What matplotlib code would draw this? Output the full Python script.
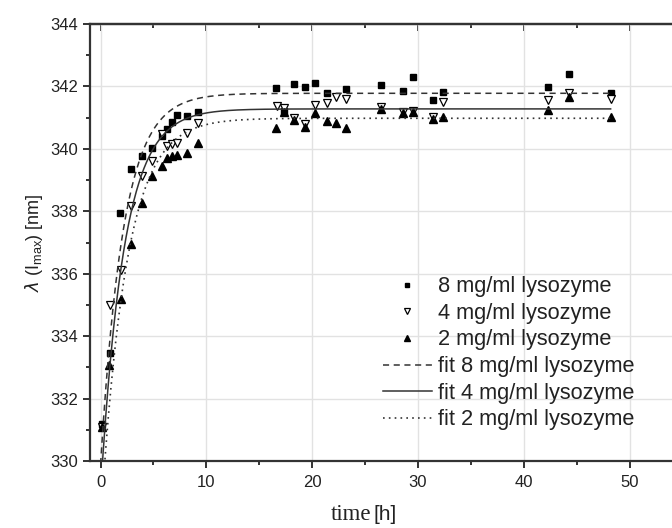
import numpy as np
import matplotlib
matplotlib.use("Agg")
import matplotlib.pyplot as plt
from matplotlib.ticker import MultipleLocator

plt.rcParams['font.family'] = ['Liberation Sans', 'DejaVu Sans']

# measured points, time in h, lambda in nm
t8 = [0.16, 0.89, 1.83, 2.84, 3.88, 4.88, 5.76, 6.23, 6.77, 7.24, 8.2, 9.2,
      16.6, 17.3, 18.27, 19.28, 20.3, 21.36, 23.2, 26.5, 28.56, 29.5, 31.4,
      32.4, 42.3, 44.25, 48.2]
y8 = [331.17, 333.45, 337.93, 339.37, 339.77, 340.04, 340.4, 340.63, 340.85,
      341.07, 341.05, 341.17, 341.94, 341.2, 342.09, 341.97, 342.1, 341.78,
      341.91, 342.04, 341.86, 342.29, 341.56, 341.81, 341.99, 342.39, 341.78]

t4 = [0.16, 0.89, 1.9, 2.84, 3.88, 4.88, 5.76, 6.23, 6.77, 7.24, 8.2, 9.2,
      16.7, 17.3, 18.27, 19.28, 20.3, 21.36, 22.27, 23.2, 26.5, 28.56, 29.5,
      31.4, 32.4, 42.3, 44.25, 48.2]
y4 = [331.1, 335.0, 336.12, 338.18, 339.13, 339.61, 340.46, 340.09, 340.14,
      340.2, 340.5, 340.82, 341.38, 341.3, 340.98, 340.8, 341.4, 341.48,
      341.67, 341.6, 341.35, 341.19, 341.22, 341.03, 341.51, 341.56, 341.78,
      341.59]

t2 = [0.16, 0.82, 1.9, 2.84, 3.88, 4.88, 5.76, 6.23, 6.77, 7.24, 8.2, 9.2,
      16.6, 17.3, 18.27, 19.28, 20.3, 21.36, 22.27, 23.2, 26.5, 28.56, 29.5,
      31.4, 32.4, 42.3, 44.25, 48.2]
y2 = [331.1, 333.07, 335.2, 336.95, 338.28, 339.14, 339.45, 339.72, 339.77,
      339.8, 339.88, 340.2, 340.66, 341.19, 340.92, 340.71, 341.14, 340.9,
      340.82, 340.66, 341.27, 341.16, 341.19, 340.95, 341.01, 341.24, 341.65,
      341.01]

# exponential fit parameters: plateau, start value, time constant
fit8 = (341.78, 329.9, 2.15)
fit4 = (341.28, 329.0, 2.2)
fit2 = (340.98, 328.0, 2.4)

def expfit(t, p):
    plateau, y0, tau = p
    return plateau - (plateau - y0) * np.exp(-t / tau)

tt = np.linspace(0, 48.2, 600)

fig = plt.figure(figsize=(6.72, 5.28), dpi=100)
ax = fig.add_axes([90/672, 67/528, 582/672, 437/528])

ax.grid(True, which='major', color='#e2e2e2', lw=1)
ax.set_axisbelow(True)

lc = '#333333'
ax.plot(t8, y8, ls='none', marker='s', ms=4.3, color='black', label='8 mg/ml lysozyme')
ax.plot(t4, y4, ls='none', marker='v', ms=5.2, mfc='white', mec='black', mew=0.9,
        label='4 mg/ml lysozyme')
ax.plot(t2, y2, ls='none', marker='^', ms=5.2, color='black', label='2 mg/ml lysozyme')
ax.plot(tt, expfit(tt, fit8), ls=(0, (4, 3)), color=lc, lw=1.1, label='fit 8 mg/ml lysozyme')
ax.plot(tt, expfit(tt, fit4), ls='-', color=lc, lw=1.1, label='fit 4 mg/ml lysozyme')
ax.plot(tt, expfit(tt, fit2), ls=(0, (1, 2.5)), color=lc, lw=1.2, label='fit 2 mg/ml lysozyme')

ax.set_xlim(-1, 54)
ax.set_ylim(330, 344)
ax.xaxis.set_major_locator(MultipleLocator(10))
ax.xaxis.set_minor_locator(MultipleLocator(5))
ax.yaxis.set_major_locator(MultipleLocator(2))
ax.yaxis.set_minor_locator(MultipleLocator(1))

for s in ['left', 'bottom', 'top']:
    ax.spines[s].set_linewidth(1.6)
    ax.spines[s].set_color(lc)
ax.spines['right'].set_visible(False)

ax.tick_params(which='both', direction='out', color=lc, width=1.4,
               labelsize=12, labelcolor='#222222')
ax.tick_params(which='major', length=5)
ax.tick_params(which='minor', length=3)
ax.tick_params(axis='x', pad=5)

top = ax.secondary_xaxis('top')
top.xaxis.set_major_locator(MultipleLocator(10))
top.xaxis.set_minor_locator(MultipleLocator(5))
top.tick_params(which='both', direction='in', color=lc, width=1.4, labeltop=False)
top.tick_params(which='major', length=5)
top.tick_params(which='minor', length=3)
top.spines['top'].set_linewidth(1.6)
top.spines['top'].set_color(lc)

ax.set_ylabel(r'$\lambda$ (I$_{\mathregular{max}}$) [nm]', fontsize=13, color='#222222', labelpad=4)

fig.text(0.552, 0.015, 'time', family='Liberation Serif', fontsize=16.5, ha='right', color='#222222')
fig.text(0.556, 0.015, '[h]', fontsize=15, ha='left', color='#222222')

leg = ax.legend(loc='upper left', bbox_to_anchor=(0.503, 0.423), frameon=False,
                fontsize=15.7, handlelength=2.25, handletextpad=0.28, labelspacing=0.26,
                markerscale=0.75, borderpad=0, borderaxespad=0)
for txt in leg.get_texts():
    txt.set_color('#222222')

fig.savefig('out.png', dpi=100)
